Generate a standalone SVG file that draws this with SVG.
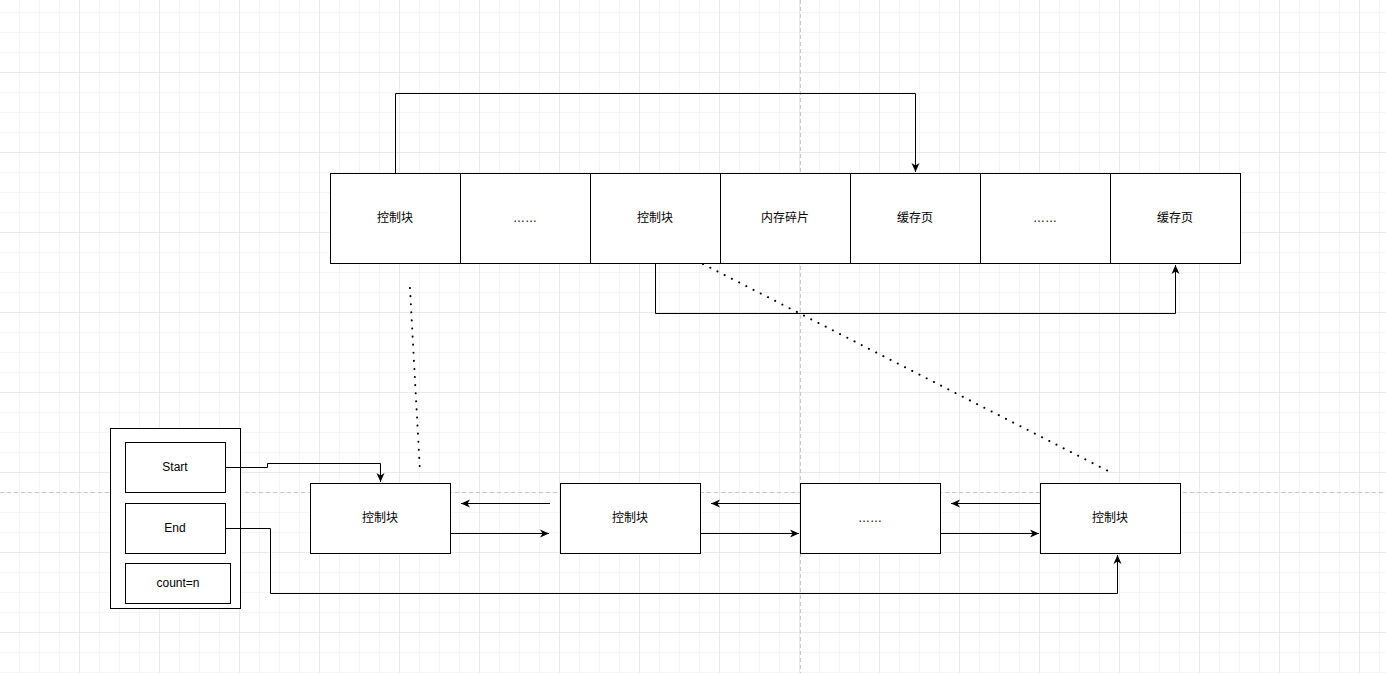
<svg xmlns="http://www.w3.org/2000/svg" width="1386" height="673" viewBox="0 0 1386 673">
<defs>
<pattern id="g" width="20" height="20" patternUnits="userSpaceOnUse" x="0" y="-7"><path d="M20 0V20M0 20H20" fill="none" stroke="#ebebeb" stroke-width="1"/></pattern>
<pattern id="G" width="80" height="80" patternUnits="userSpaceOnUse" x="0" y="-7"><path d="M80 0V80M0 80H80" fill="none" stroke="#dedede" stroke-width="1"/></pattern>
<marker id="a" markerWidth="10" markerHeight="10" refX="9" refY="5" orient="auto" markerUnits="userSpaceOnUse"><path d="M0 1L9 5L0 9L2.5 5Z" fill="#000"/></marker>
</defs>
<style>
.b{fill:#fff;stroke:#000;stroke-width:1}
.t{font-family:"Liberation Sans","Noto Sans CJK SC",sans-serif;font-size:12px;text-anchor:middle;dominant-baseline:central}
.c{fill:none;stroke:#000;stroke-width:1}
.d{fill:none;stroke:#000;stroke-width:2;stroke-dasharray:0.1 8;stroke-linecap:round}
</style>
<rect width="1386" height="673" fill="#fff"/>
<rect width="1386" height="673" fill="url(#g)"/>
<rect width="1386" height="673" fill="url(#G)"/>
<path d="M0 492.5H1386M800.5 0V673" stroke="#c8c8c8" stroke-dasharray="4 3" fill="none"/>
<g id="top">
<rect class="b" x="330.5" y="173.5" width="910" height="90"/>
<path d="M460.5 173.5V263.5M590.5 173.5V263.5M720.5 173.5V263.5M850.5 173.5V263.5M980.5 173.5V263.5M1110.5 173.5V263.5" class="c"/>
<text class="t" x="395" y="218">控制块</text>
<text class="t" x="525" y="218">……</text>
<text class="t" x="655" y="218">控制块</text>
<text class="t" x="785" y="218">内存碎片</text>
<text class="t" x="915" y="218">缓存页</text>
<text class="t" x="1045" y="218">……</text>
<text class="t" x="1175" y="218">缓存页</text>
</g>
<g id="list">
<rect class="b" x="110.5" y="428.5" width="130" height="180"/>
<rect class="b" x="125.5" y="442.5" width="100" height="50"/><text class="t" x="175" y="467">Start</text>
<rect class="b" x="125.5" y="503.5" width="100" height="50"/><text class="t" x="175" y="528">End</text>
<rect class="b" x="125.5" y="563.5" width="105" height="40"/><text class="t" x="178" y="583">count=n</text>
</g>
<g id="n1"><rect class="b" x="310.5" y="483.5" width="140" height="70"/><text class="t" x="380" y="518">控制块</text></g>
<g id="n2"><rect class="b" x="560.5" y="483.5" width="140" height="70"/><text class="t" x="630" y="518">控制块</text></g>
<g id="n3"><rect class="b" x="800.5" y="483.5" width="140" height="70"/><text class="t" x="870" y="518">……</text></g>
<g id="n4"><rect class="b" x="1040.5" y="483.5" width="140" height="70"/><text class="t" x="1110" y="518">控制块</text></g>
<g id="connectors">
<path class="c" d="M395.5 173.5V93.5H915.5V172" marker-end="url(#a)"/>
<path class="c" d="M655.5 263.5V313.5H1175.5V265" marker-end="url(#a)"/>
<path class="c" d="M225.5 467.5H267.5V463.5H380.5V482" marker-end="url(#a)"/>
<path class="c" d="M225.5 528.5H270.5V593.5H1117.5V555" marker-end="url(#a)"/>
<path class="c" d="M550 503.5H461" marker-end="url(#a)"/>
<path class="c" d="M450.5 533.5H549" marker-end="url(#a)"/>
<path class="c" d="M800 503.5H711" marker-end="url(#a)"/>
<path class="c" d="M700.5 533.5H799" marker-end="url(#a)"/>
<path class="c" d="M1040 503.5H951" marker-end="url(#a)"/>
<path class="c" d="M940.5 533.5H1039" marker-end="url(#a)"/>
<path class="d" d="M410 288L420 472"/>
<path class="d" d="M703 264L1110 472"/>
</g>
</svg>
